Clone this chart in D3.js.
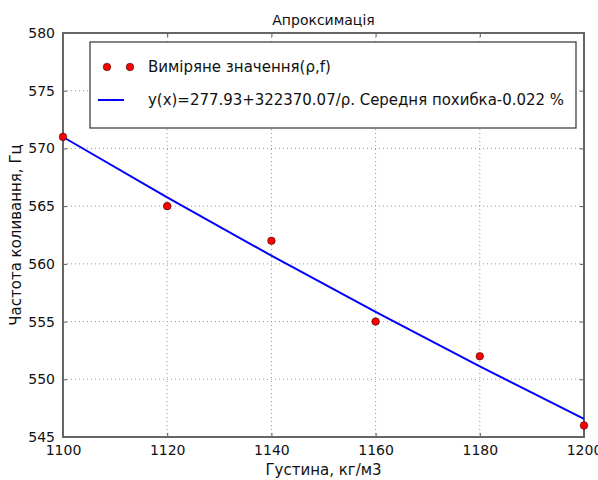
<!DOCTYPE html>
<html>
<head>
<meta charset="utf-8">
<script src="https://cdn.jsdelivr.net/npm/d3@7"></script>
<style>
  body { margin: 0; background: #fff; }
  text { font-family: "DejaVu Sans", sans-serif; fill: #111; }
  .grid line { stroke: #999; stroke-dasharray: 1,3; }
</style>
</head>
<body>
<div class="svg-container"></div>
<script>
var width = 598;
var height = 480;

var padding = { "top": 33, "right": 14, "bottom": 43, "left": 63 };

// measured points
var density = [1100, 1120, 1140, 1160, 1180, 1200];
var frequency = [571, 565, 562, 555, 552, 546];
// approximation y(x)=277.93+322370.07/rho at the same densities
var fitted = [570.99, 565.76, 560.71, 555.83, 551.12, 546.57];

var xTicks = [1100, 1120, 1140, 1160, 1180, 1200];
var yTicks = [545, 550, 555, 560, 565, 570, 575, 580];

var titleText = "Апроксимація";
var xLabelText = "Густина, кг/м3";
var yLabelText = "Частота коливання, Гц";
var legendPoints = "Виміряне значення(ρ,f)";
var legendLine = "y(x)=277.93+322370.07/ρ. Середня похибка-0.022 %";

var innerW = width - padding.left - padding.right;
var innerH = height - padding.top - padding.bottom;

var svg = d3.select(".svg-container")
              .append("svg")
              .attr("width", width)
              .attr("height", height)
              .append("g")
              .attr("transform", "translate(" + padding.left + "," + padding.top + ")");

var scaleX = d3.scaleLinear().domain([1100, 1200]).range([0, innerW]);
var scaleY = d3.scaleLinear().domain([545, 580]).range([innerH, 0]);

// grid
svg.append("g").attr("class", "grid")
    .selectAll("line").data(xTicks.slice(1, -1)).enter().append("line")
    .attr("x1", d => scaleX(d)).attr("x2", d => scaleX(d))
    .attr("y1", 0).attr("y2", innerH);
svg.append("g").attr("class", "grid")
    .selectAll("line").data(yTicks.slice(1, -1)).enter().append("line")
    .attr("y1", d => scaleY(d)).attr("y2", d => scaleY(d))
    .attr("x1", 0).attr("x2", innerW);

// axes with inward ticks
var xAxis = svg.append("g")
    .attr("transform", "translate(0," + innerH + ")")
    .call(d3.axisBottom(scaleX).tickValues(xTicks).tickSize(-4).tickPadding(8).tickFormat(d3.format("d")));
var yAxis = svg.append("g")
    .call(d3.axisLeft(scaleY).tickValues(yTicks).tickSize(-4).tickPadding(8));
var xAxisTop = svg.append("g")
    .call(d3.axisTop(scaleX).tickValues(xTicks).tickSize(-4).tickFormat(""));
var yAxisRight = svg.append("g")
    .attr("transform", "translate(" + innerW + ",0)")
    .call(d3.axisRight(scaleY).tickValues(yTicks).tickSize(-4).tickFormat(""));

[xAxis, yAxis, xAxisTop, yAxisRight].forEach(function(a) {
    a.select(".domain").remove();
    a.selectAll(".tick line").attr("stroke", "#555");
    a.selectAll("text").attr("font-size", 14).attr("fill", "#111")
        .style("font-family", "DejaVu Sans, sans-serif");
});

// frame
svg.append("rect")
    .attr("width", innerW).attr("height", innerH)
    .attr("fill", "none").attr("stroke", "#666").attr("stroke-width", 2);

// fit line
var fitLine = d3.line()
    .x(function(d, i) { return scaleX(density[i]); })
    .y(function(d) { return scaleY(d); });

svg.append("path")
    .datum(fitted)
    .attr("fill", "none")
    .attr("stroke", "#0000ff")
    .attr("stroke-width", 2)
    .attr("d", fitLine);

// points
svg.append("g").selectAll("circle")
    .data(frequency).enter().append("circle")
    .attr("cx", function(d, i) { return scaleX(density[i]); })
    .attr("cy", function(d) { return scaleY(d); })
    .attr("r", 3.8)
    .attr("fill", "#ff0000")
    .attr("stroke", "#000")
    .attr("stroke-width", 0.5);

// legend
var legend = svg.append("g").attr("transform", "translate(27,9)");
legend.append("rect")
    .attr("width", 486).attr("height", 86)
    .attr("fill", "#fff").attr("stroke", "#333").attr("stroke-width", 1.2);
legend.selectAll("circle.lg").data([17, 40]).enter().append("circle")
    .attr("cx", d => d).attr("cy", 25).attr("r", 3.8)
    .attr("fill", "#ff0000").attr("stroke", "#000").attr("stroke-width", 0.5);
legend.append("line")
    .attr("x1", 8).attr("x2", 34).attr("y1", 58).attr("y2", 58)
    .attr("stroke", "#0000ff").attr("stroke-width", 2);
legend.append("text").attr("x", 58).attr("y", 30).attr("font-size", 15).text(legendPoints);
legend.append("text").attr("x", 58).attr("y", 63).attr("font-size", 15)
    .attr("textLength", 416).attr("lengthAdjust", "spacingAndGlyphs").text(legendLine);

// title and labels
svg.append("text")
    .attr("x", innerW / 2).attr("y", -8)
    .attr("text-anchor", "middle").attr("font-size", 14)
    .text(titleText);
svg.append("text")
    .attr("x", innerW / 2).attr("y", innerH + 38)
    .attr("text-anchor", "middle").attr("font-size", 15)
    .text(xLabelText);
svg.append("text")
    .attr("transform", "rotate(270)")
    .attr("x", -innerH / 2).attr("y", -42)
    .attr("text-anchor", "middle").attr("font-size", 15)
    .text(yLabelText);
</script>
</body>
</html>
